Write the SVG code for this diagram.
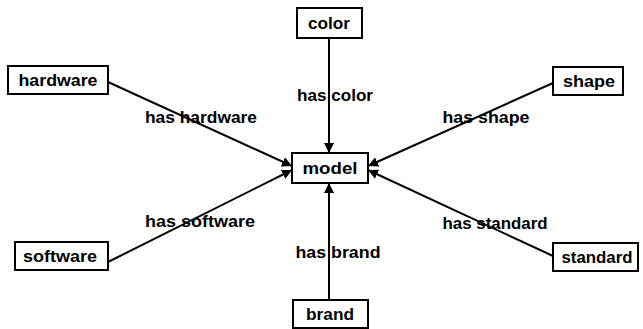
<svg xmlns="http://www.w3.org/2000/svg" width="643" height="329" viewBox="0 0 643 329">
<style>
.box{fill:#fff;stroke:#000;stroke-width:2}
.t{font-family:"Liberation Sans",Arial,sans-serif;font-weight:bold;font-size:16.5px;fill:#000;text-anchor:middle}
.e{stroke:#000;stroke-width:2;fill:none;marker-end:url(#ah)}
</style>
<defs>
<marker id="ah" viewBox="0 0 10 10" refX="10" refY="5" markerWidth="5" markerHeight="5" orient="auto" markerUnits="strokeWidth">
<path d="M0,0 L10,5 L0,10 z" fill="#000"/>
</marker>
</defs>
<rect width="643" height="329" fill="#fff"/>
<g id="connectors">
<line class="e" x1="329" y1="38" x2="329" y2="153"/>
<line class="e" x1="329" y1="300" x2="329" y2="183"/>
<line class="e" x1="108" y1="82" x2="292" y2="166"/>
<line class="e" x1="108" y1="262" x2="292" y2="170"/>
<line class="e" x1="553" y1="83" x2="368" y2="166"/>
<line class="e" x1="553" y1="256" x2="368" y2="170"/>
<text class="t" x="335" y="101" textLength="76" lengthAdjust="spacingAndGlyphs">has color</text>
<text class="t" x="201" y="123" textLength="112" lengthAdjust="spacingAndGlyphs">has hardware</text>
<text class="t" x="486" y="123" textLength="87" lengthAdjust="spacingAndGlyphs">has shape</text>
<text class="t" x="200" y="227" textLength="110" lengthAdjust="spacingAndGlyphs">has software</text>
<text class="t" x="495" y="229" textLength="105" lengthAdjust="spacingAndGlyphs">has standard</text>
<text class="t" x="338" y="258" textLength="85" lengthAdjust="spacingAndGlyphs">has brand</text>
</g>
<g id="color"><rect class="box" x="297" y="8" width="65" height="30"/><text class="t" x="329" y="29" textLength="42" lengthAdjust="spacingAndGlyphs">color</text></g>
<g id="hardware"><rect class="box" x="8" y="66" width="100" height="28"/><text class="t" x="58" y="86" textLength="79" lengthAdjust="spacingAndGlyphs">hardware</text></g>
<g id="model"><rect class="box" x="292" y="153" width="76" height="30"/><text class="t" x="330" y="174" textLength="55" lengthAdjust="spacingAndGlyphs">model</text></g>
<g id="shape"><rect class="box" x="553" y="67" width="70" height="28"/><text class="t" x="589" y="87" textLength="52" lengthAdjust="spacingAndGlyphs">shape</text></g>
<g id="software"><rect class="box" x="15" y="242" width="93" height="28"/><text class="t" x="60" y="262" textLength="74" lengthAdjust="spacingAndGlyphs">software</text></g>
<g id="standard"><rect class="box" x="553" y="243" width="85" height="28"/><text class="t" x="597" y="263" textLength="71" lengthAdjust="spacingAndGlyphs">standard</text></g>
<g id="brand"><rect class="box" x="293" y="300" width="75" height="28"/><text class="t" x="330" y="320" textLength="48" lengthAdjust="spacingAndGlyphs">brand</text></g>
</svg>
